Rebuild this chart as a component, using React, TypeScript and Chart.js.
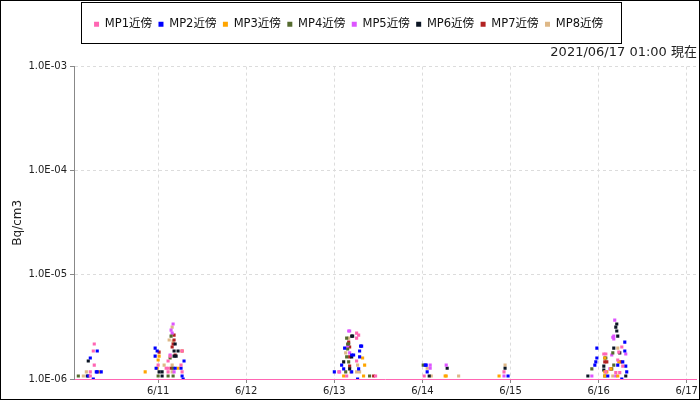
import React, { useEffect, useRef } from 'react';
import { Chart, registerables } from 'chart.js';

Chart.register(...registerables);

type Pt = [number, number];

const SERIES_NAMES = ['MP1近傍', 'MP2近傍', 'MP3近傍', 'MP4近傍', 'MP5近傍', 'MP6近傍', 'MP7近傍', 'MP8近傍'];
const SERIES_COLORS = ['#ff66b3', '#0000ff', '#ffa500', '#556b2f', '#dd55ff', '#0b1524', '#b22222', '#deb887'];

// x = day of June (fractional), y = Bq/cm3
const MP1: Pt[] = [
  [10.275, 2.17e-6], [10.264, 1.86e-6], [10.275, 1.36e-6], [10.23, 1.17e-6], [10.23, 1.07e-6],
  [11.272, 1.86e-6], [11.136, 1.66e-6], [11.0, 1.36e-6], [11.26, 1.36e-6], [11.091, 1.27e-6], [11.113, 1.27e-6],
  [11.113, 1.17e-6], [11.272, 1.17e-6], [11.113, 1.49e-6],
  [13.253, 2.76e-6], [13.276, 2.64e-6], [13.253, 2.47e-6], [13.253, 1.49e-6], [13.05, 1.17e-6], [13.14, 1.07e-6], [13.468, 1.07e-6],
  [14.02, 1.07e-6],
  [14.926, 1.17e-6],
  [16.263, 2.03e-6], [16.059, 1.74e-6], [16.082, 1.74e-6], [16.217, 1.52e-6], [16.274, 1.33e-6], [16.082, 1.17e-6],
  [16.195, 1.15e-6], [16.24, 1.15e-6], [16.229, 1.81e-6],
];
const MP2: Pt[] = [
  [10.309, 1.86e-6], [10.23, 1.59e-6], [10.298, 1.17e-6], [10.309, 1.17e-6], [10.354, 1.17e-6], [10.207, 1.07e-6], [10.264, 1.0e-6],
  [10.966, 1.98e-6], [10.989, 1.86e-6], [10.966, 1.66e-6], [11.294, 1.49e-6], [10.977, 1.27e-6], [11.193, 1.27e-6], [11.26, 1.27e-6],
  [11.272, 1.07e-6], [11.284, 1.0e-6],
  [13.117, 1.98e-6], [13.298, 2.07e-6], [13.31, 2.07e-6], [13.287, 1.86e-6], [13.197, 1.7e-6], [13.219, 1.7e-6], [13.287, 1.63e-6],
  [13.083, 1.36e-6], [13.106, 1.25e-6], [13.276, 1.25e-6], [13.0, 1.17e-6], [13.197, 1.17e-6], [13.264, 1.0e-6],
  [14.032, 1.36e-6], [14.043, 1.36e-6], [14.054, 1.17e-6],
  [14.972, 1.07e-6],
  [16.297, 2.26e-6], [15.98, 1.98e-6], [16.297, 1.86e-6], [15.98, 1.59e-6], [15.968, 1.46e-6], [16.274, 1.46e-6], [15.957, 1.36e-6],
  [16.217, 1.36e-6], [16.308, 1.33e-6], [16.319, 1.17e-6], [16.104, 1.07e-6], [16.263, 1.0e-6],
];
const MP3: Pt[] = [
  [10.332, 1.17e-6],
  [10.853, 1.17e-6], [11.011, 1.66e-6], [11.0, 1.52e-6], [11.226, 1.27e-6], [11.272, 1.86e-6], [10.989, 1.27e-6],
  [13.321, 1.59e-6], [13.344, 1.36e-6], [13.106, 1.07e-6], [13.332, 1.07e-6],
  [14.258, 1.07e-6], [14.27, 1.07e-6],
  [14.87, 1.07e-6],
  [16.07, 1.59e-6], [16.229, 1.46e-6], [16.07, 1.17e-6], [16.093, 1.17e-6], [16.07, 1.07e-6], [16.217, 1.07e-6], [16.14, 1.25e-6],
];
const MP4: Pt[] = [
  [10.094, 1.07e-6],
  [11.147, 2.58e-6], [11.136, 1.59e-6], [11.17, 1.27e-6], [11.0, 1.07e-6], [11.113, 1.07e-6], [11.17, 1.07e-6],
  [13.14, 2.47e-6], [13.151, 2.17e-6], [13.163, 2.17e-6], [13.151, 1.94e-6], [13.14, 1.63e-6], [13.163, 1.46e-6], [13.129, 1.17e-6], [13.4, 1.07e-6],
  [14.009, 1.36e-6],
  [16.161, 1.78e-6], [16.07, 1.59e-6], [16.082, 1.59e-6], [16.172, 1.36e-6], [15.923, 1.25e-6], [16.149, 1.25e-6], [16.07, 1.07e-6],
];
const MP5: Pt[] = [
  [11.17, 3.37e-6], [11.147, 2.95e-6], [11.159, 2.76e-6], [11.272, 1.86e-6], [11.181, 1.17e-6], [11.136, 1.7e-6],
  [13.163, 2.89e-6], [13.174, 2.89e-6], [13.151, 2.07e-6], [13.174, 1.78e-6], [13.06, 1.17e-6],
  [14.088, 1.36e-6], [14.27, 1.36e-6], [14.088, 1.27e-6],
  [14.926, 1.07e-6],
  [16.183, 3.68e-6], [16.172, 2.58e-6], [16.161, 2.52e-6], [16.172, 2.42e-6], [16.308, 1.74e-6], [16.149, 1.7e-6], [16.127, 1.25e-6],
  [15.923, 1.07e-6], [16.195, 1.07e-6],
];
const MP6: Pt[] = [
  [10.207, 1.49e-6], [10.196, 1.07e-6],
  [11.181, 1.86e-6], [11.226, 1.86e-6], [11.181, 1.66e-6], [11.204, 1.66e-6], [11.011, 1.17e-6], [11.045, 1.07e-6],
  [11.193, 2.17e-6], [11.045, 1.17e-6],
  [13.197, 2.58e-6], [13.208, 2.58e-6], [13.197, 1.63e-6], [13.106, 1.46e-6], [13.174, 1.25e-6],
  [14.077, 1.07e-6], [14.281, 1.27e-6],
  [14.938, 1.27e-6],
  [16.206, 3.37e-6], [16.195, 3.15e-6], [16.206, 2.89e-6], [16.217, 2.58e-6], [16.172, 1.98e-6], [16.24, 1.78e-6], [16.059, 1.33e-6],
  [16.059, 1.22e-6], [15.878, 1.07e-6], [16.308, 1.07e-6],
];
const MP7: Pt[] = [
  [11.181, 2.64e-6], [11.181, 2.37e-6], [11.17, 2.17e-6], [11.159, 2.03e-6], [11.011, 1.81e-6], [11.147, 1.27e-6], [11.193, 1.7e-6],
  [13.163, 2.26e-6], [13.174, 2.03e-6], [13.174, 1.63e-6], [13.174, 1.33e-6], [13.446, 1.07e-6],
  [16.07, 1.46e-6], [16.093, 1.46e-6], [16.251, 1.46e-6], [16.14, 1.25e-6],
];
const MP8: Pt[] = [
  [10.185, 1.17e-6], [10.151, 1.07e-6],
  [11.159, 3.15e-6], [11.125, 2.37e-6], [11.17, 2.31e-6], [11.068, 1.36e-6], [11.159, 1.36e-6], [11.159, 1.17e-6],
  [13.163, 2.47e-6], [13.129, 1.78e-6], [13.264, 1.36e-6], [13.185, 1.17e-6], [13.253, 1.17e-6], [13.287, 1.17e-6],
  [14.054, 1.27e-6], [14.1, 1.07e-6], [14.411, 1.07e-6],
  [14.938, 1.36e-6],
  [16.217, 1.98e-6], [16.161, 1.07e-6],
];
const SERIES_DATA: Pt[][] = [MP1, MP2, MP3, MP4, MP5, MP6, MP7, MP8];

const X_MIN = 10.045;
const X_MAX = 17.115;
const X_TICKS = [11, 12, 13, 14, 15, 16, 17];
const X_TICK_LABELS = ['6/11', '6/12', '6/13', '6/14', '6/15', '6/16', '6/17'];
const Y_TICKS = [1e-6, 1e-5, 1e-4, 1e-3];
const Y_TICK_LABELS = ['1.0E-06', '1.0E-05', '1.0E-04', '1.0E-03'];
const Y_TITLE = 'Bq/cm3';
const TIMESTAMP = '2021/06/17 01:00 現在';

const FONT = "'DejaVu Sans', 'Noto Sans CJK JP', sans-serif";

export default function App() {
  const ref = useRef<HTMLCanvasElement | null>(null);

  useEffect(() => {
    document.body.style.margin = '0';
    const canvas = ref.current;
    if (!canvas) return;

    const frame = {
      id: 'frame',
      beforeInit(chart: any) {
        const lg = chart.legend;
        if (lg) {
          const origFit = lg.fit.bind(lg);
          lg.fit = function () {
            origFit();
            this.height = 32;
          };
        }
      },
      afterDraw(chart: any) {
        const ctx = chart.ctx;
        ctx.save();
        ctx.strokeStyle = '#000';
        ctx.lineWidth = 1;
        const hb = chart.legend?.legendHitBoxes;
        if (hb && hb.length) {
          const minX = Math.min(...hb.map((h: any) => h.left));
          const l = Math.round(minX - 13) + 0.5;
          ctx.strokeRect(l, 2.5, 540, 41);
        }
        ctx.strokeRect(0.5, 0.5, chart.width - 1, chart.height - 1);
        ctx.restore();
      },
    };

    const chart = new Chart(canvas, {
      type: 'scatter',
      data: {
        datasets: SERIES_NAMES.map((name, i) => ({
          label: name,
          data: SERIES_DATA[i].map(([x, y]) => ({ x, y })),
          backgroundColor: SERIES_COLORS[i],
          borderColor: SERIES_COLORS[i],
          pointStyle: 'rect',
          pointRadius: 2.2,
          pointHoverRadius: 2.2,
          pointBorderWidth: 0,
          showLine: false,
        })),
      },
      options: {
        animation: false,
        responsive: false,
        devicePixelRatio: 1,
        layout: { padding: { top: 12, right: 3, left: 0, bottom: 0 } },
        font: { family: FONT },
        plugins: {
          legend: {
            display: true,
            position: 'top',
            labels: {
              usePointStyle: true,
              pointStyle: 'rect',
              boxWidth: 5,
              boxHeight: 5,
              padding: 6.5,
              color: '#111',
              font: { family: FONT, size: 11.5 },
            },
          },
          subtitle: {
            display: true,
            text: TIMESTAMP,
            align: 'end',
            position: 'top',
            weight: 500,
            color: '#222',
            font: { family: FONT, size: 13, weight: 'normal' },
            padding: { top: 1, bottom: 6 },
          } as any,
          tooltip: { enabled: false },
        },
        scales: {
          x: {
            type: 'linear',
            min: X_MIN,
            max: X_MAX,
            afterBuildTicks: (scale: any) => {
              scale.ticks = X_TICKS.map((v) => ({ value: v }));
            },
            afterFit: (scale: any) => {
              scale.height = 21;
            },
            ticks: {
              autoSkip: false,
              maxRotation: 0,
              padding: 2,
              color: '#222',
              font: { family: FONT, size: 10 },
              callback: (v: any) => {
                const i = X_TICKS.indexOf(Number(v));
                return i >= 0 ? X_TICK_LABELS[i] : '';
              },
            },
            grid: {
              color: '#dcdcdc',
              tickColor: '#888',
              tickLength: 4,
              tickBorderDash: [],
            },
            border: { color: '#ff66b3', width: 1, dash: [3, 3] },
          },
          y: {
            type: 'logarithmic',
            min: 1e-6,
            max: 1e-3,
            afterBuildTicks: (scale: any) => {
              scale.ticks = Y_TICKS.map((v) => ({ value: v }));
            },
            afterFit: (scale: any) => {
              scale.width = 74;
            },
            title: {
              display: true,
              text: Y_TITLE,
              color: '#222',
              font: { family: FONT, size: 12 },
              padding: { top: 11, bottom: 0 },
            },
            ticks: {
              autoSkip: false,
              padding: 3,
              color: '#222',
              font: { family: FONT, size: 10 },
              callback: (v: any) => {
                const i = Y_TICKS.findIndex((t) => Math.abs(t - Number(v)) / t < 1e-6);
                return i >= 0 ? Y_TICK_LABELS[i] : '';
              },
            },
            grid: {
              color: '#dcdcdc',
              tickColor: '#888',
              tickLength: 4,
              tickBorderDash: [],
            },
            border: { color: '#888', width: 1, dash: [3, 3] },
          },
        },
      } as any,
      plugins: [frame],
    });

    return () => chart.destroy();
  }, []);

  return (
    <div style={{ width: 700, height: 400 }}>
      <canvas ref={ref} width={700} height={400} style={{ display: 'block' }} />
    </div>
  );
}
